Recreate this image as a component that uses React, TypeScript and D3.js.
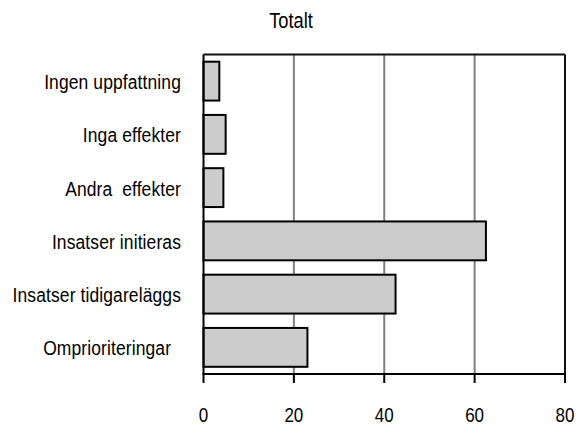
import React from "react";
import * as d3 from "d3";

const categories = [
  "Ingen uppfattning",
  "Inga effekter",
  "Andra  effekter",
  "Insatser initieras",
  "Insatser tidigareläggs",
  "Omprioriteringar  ",
];
const values = [3.5, 4.9, 4.4, 62.5, 42.5, 23.0];
const xTicks = [0, 20, 40, 60, 80];
const title = "Totalt";

const W = 576;
const H = 425;
const margin = { left: 203.5, right: 11, top: 54.5, bottom: 51 };
const font = "'Liberation Sans', Arial, sans-serif";
const stretch = 1.2;

// Text drawn slightly taller than wide
function Label(props: {
  x: number;
  y: number;
  size: number;
  anchor: "start" | "middle" | "end";
  spacing?: number;
  children: React.ReactNode;
}) {
  return (
    <g transform={`translate(${props.x},${props.y}) scale(1,${stretch})`}>
      <text
        x={0}
        y={0}
        textAnchor={props.anchor}
        fontFamily={font}
        fontSize={props.size}
        letterSpacing={props.spacing ?? 0}
        fill="#000"
        style={{ whiteSpace: "pre" }}
      >
        {props.children}
      </text>
    </g>
  );
}

export default function App() {
  const x = d3.scaleLinear().domain([0, 80]).range([margin.left, W - margin.right]);
  const y = d3
    .scaleBand<string>()
    .domain(categories)
    .range([margin.top, H - margin.bottom])
    .paddingInner(0.27)
    .paddingOuter(0.135);
  const top = margin.top;
  const bottom = H - margin.bottom;
  return (
    <svg
      width={W}
      height={H}
      style={{ position: "fixed", left: 0, top: 0, background: "#fff" }}
    >
      <Label x={291} y={27.5} size={18.3} anchor="middle">
        {title}
      </Label>
      {/* vertical gridlines */}
      {xTicks.slice(1, -1).map((t) => (
        <line key={t} x1={x(t)} x2={x(t)} y1={top} y2={bottom} stroke="#808080" strokeWidth={2} />
      ))}
      {/* plot frame: top and right */}
      <line x1={x(0)} x2={x(80)} y1={top} y2={top} stroke="#111" strokeWidth={2} />
      <line x1={x(80)} x2={x(80)} y1={top} y2={bottom} stroke="#111" strokeWidth={2} />
      {/* bars */}
      {categories.map((c, i) => (
        <rect
          key={c}
          x={x(0)}
          y={y(c)!}
          width={x(values[i]) - x(0)}
          height={y.bandwidth()}
          fill="#cccccc"
          stroke="#000"
          strokeWidth={2}
        />
      ))}
      {/* axes */}
      <line x1={x(0)} x2={x(0)} y1={top} y2={bottom} stroke="#000" strokeWidth={2} />
      <line x1={x(0) - 1} x2={x(80) + 1} y1={bottom} y2={bottom} stroke="#000" strokeWidth={2} />
      {xTicks.map((t) => (
        <g key={t}>
          <line x1={x(t)} x2={x(t)} y1={bottom} y2={bottom + 9} stroke="#000" strokeWidth={2} />
          <Label x={x(t)} y={422} size={17} anchor="middle">
            {t}
          </Label>
        </g>
      ))}
      {categories.map((c) => (
        <Label key={c} x={181} y={y(c)! + y.bandwidth() / 2 + 8} size={17.5} anchor="end" spacing={0.1}>
          {c}
        </Label>
      ))}
    </svg>
  );
}
